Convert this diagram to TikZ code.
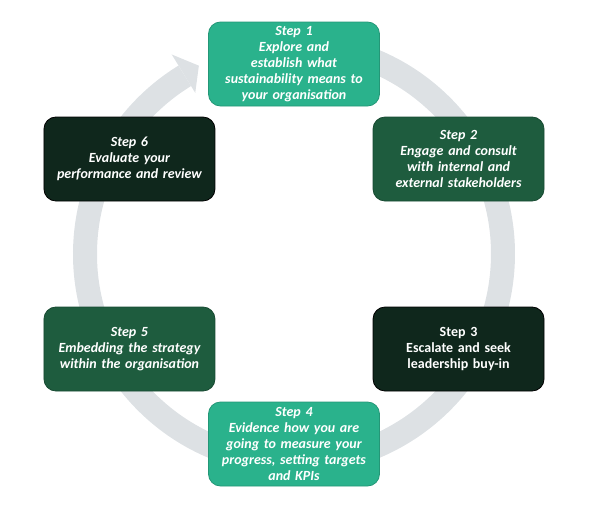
\documentclass[tikz,border=0pt]{standalone}
\usepackage{fontspec}
\setmainfont{Carlito}
\definecolor{stepteal}{HTML}{2AB28C}
\definecolor{stepgreen}{HTML}{1E5C3E}
\definecolor{stepdark}{HTML}{0F271C}
\definecolor{ringgrey}{HTML}{DDE1E4}
\tikzset{
  stepbox/.style={rectangle, rounded corners=12pt, minimum width=171pt,
    minimum height=84pt, text width=168pt, inner sep=1pt, align=center,
    text=white, line width=0.8pt, font=\fontsize{14}{16}\selectfont\bfseries\itshape},
  tealbox/.style={stepbox, fill=stepteal, draw=stepteal!85!black},
  greenbox/.style={stepbox, fill=stepgreen, draw=stepgreen!80!black},
  darkbox/.style={stepbox, fill=stepdark, draw=black}
}
\begin{document}
\begin{tikzpicture}
    \useasboundingbox (-294pt,-253pt) rectangle (306pt,254pt);

    % Ring arrow (runs clockwise, head just left of step 1)
    \coordinate (O) at (0,0);
    \draw[ringgrey, line width=24pt] (85:209pt) arc[start angle=85, end angle=-238.5, radius=209pt];
    \fill[ringgrey] (121.5:234pt) -- (116.8:211pt) -- (121.5:189pt) -- cycle;

    % Steps
    \node[tealbox]  (step1) at (90:190pt)  {Step 1\\Explore and\\establish what\\sustainability means to\\your organisation};
    \node[greenbox] (step2) at (30:190pt)  {Step 2\\Engage and consult\\with internal and\\external stakeholders};
    \node[darkbox, font=\fontsize{14}{16}\selectfont\bfseries] (step3) at (-30:190pt) {Step 3\\Escalate and seek\\leadership buy-in};
    \node[tealbox]  (step4) at (-90:190pt) {Step 4\\Evidence how you are\\going to measure your\\progress, setting targets\\and KPIs};
    \node[greenbox] (step5) at (210:190pt) {Step 5\\Embedding the strategy\\within the organisation};
    \node[darkbox]  (step6) at (150:190pt) {Step 6\\Evaluate your\\performance and review};

\end{tikzpicture}
\end{document}
